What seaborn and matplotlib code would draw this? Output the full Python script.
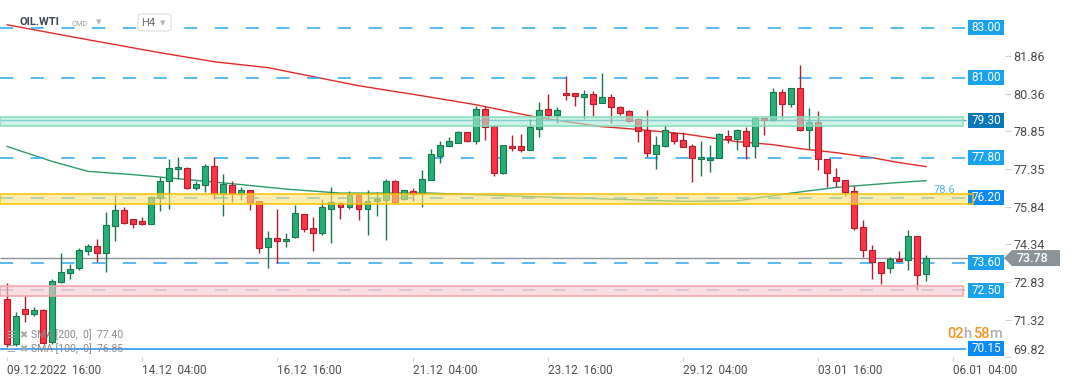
import matplotlib
matplotlib.use("Agg")
import matplotlib.pyplot as plt
from matplotlib.patches import Rectangle, FancyBboxPatch, Polygon
import numpy as np
import pandas as pd
import seaborn as sns

# ---- data (OIL.WTI, H4) ----
opens = [72.14, 70.35, 71.74, 71.54, 71.70, 70.42, 72.82, 73.18, 73.38, 74.07,
         74.26, 73.98, 75.06, 75.70, 75.34, 75.25, 75.14, 76.17, 76.86, 77.34,
         77.40, 76.57, 76.70, 77.46, 76.34, 76.69, 76.35, 76.50, 76.06, 74.22,
         74.58, 74.46, 74.61, 75.54, 74.98, 74.78, 75.74, 75.98, 75.82, 76.30,
         75.74, 76.06, 76.10, 76.86, 76.14, 76.46, 76.38, 76.90, 77.85, 78.26,
         78.38, 78.82, 78.46, 79.75, 79.05, 77.18, 78.26, 78.26, 78.10, 78.95,
         79.75, 79.51, 80.39, 80.39, 80.23, 80.35, 79.99, 80.23, 79.83, 79.67,
         79.35, 78.90, 77.94, 78.26, 78.78, 78.50, 78.26, 77.74, 77.70, 77.78,
         78.66, 78.54, 78.86, 78.26, 79.39, 79.31, 80.43, 79.95, 80.59, 78.90,
         79.23, 77.74, 77.02, 76.90, 76.46, 75.02, 74.10, 73.62, 73.38, 73.74,
         73.70, 74.66, 73.14]
highs = [72.80, 71.64, 72.28, 71.84, 71.74, 72.94, 73.98, 73.55, 74.19, 74.34,
         74.55, 75.61, 76.32, 75.83, 75.34, 75.42, 76.25, 77.01, 77.76, 77.82,
         77.42, 76.86, 77.53, 77.82, 77.16, 76.86, 76.62, 76.52, 76.08, 74.87,
         75.75, 74.78, 75.91, 75.56, 75.42, 76.14, 76.62, 76.02, 76.46, 76.32,
         76.50, 76.42, 76.94, 76.90, 76.52, 76.58, 77.32, 78.16, 78.48, 78.62,
         78.86, 78.84, 79.85, 79.85, 79.07, 78.32, 78.72, 78.76, 79.35, 80.04,
         80.36, 79.83, 81.08, 80.40, 80.52, 80.47, 81.19, 80.36, 79.87, 79.71,
         79.39, 79.71, 78.66, 79.11, 78.80, 78.82, 78.34, 78.46, 78.30, 78.78,
         78.90, 78.94, 79.03, 79.47, 79.40, 80.59, 80.55, 80.60, 81.51, 79.79,
         79.67, 77.76, 77.38, 76.92, 76.66, 75.30, 74.30, 73.64, 73.82, 74.06,
         74.90, 74.68, 73.90]
lows = [70.23, 70.24, 71.24, 71.48, 70.36, 70.35, 72.78, 72.94, 73.31, 73.89,
        73.62, 73.22, 74.45, 75.14, 74.97, 75.10, 75.14, 75.65, 75.75, 76.96,
        76.54, 76.52, 76.42, 76.14, 75.45, 76.02, 76.11, 75.69, 74.00, 73.40,
        73.60, 74.22, 74.57, 74.81, 74.05, 74.69, 74.38, 75.34, 75.74, 75.30,
        74.69, 75.46, 74.50, 75.98, 76.12, 76.06, 75.82, 76.90, 77.57, 78.26,
        78.38, 78.41, 78.34, 78.50, 77.05, 77.16, 78.05, 78.02, 78.10, 78.62,
        79.39, 79.19, 80.09, 79.85, 79.35, 79.45, 79.99, 79.19, 79.51, 79.23,
        78.41, 77.82, 77.33, 78.22, 78.34, 78.22, 76.82, 77.06, 77.22, 77.78,
        78.38, 78.10, 77.74, 77.78, 78.70, 79.27, 79.35, 79.83, 78.86, 78.14,
        77.30, 76.62, 76.62, 76.26, 74.90, 73.82, 72.94, 72.74, 73.18, 73.62,
        73.30, 72.50, 72.86]
closes = [70.35, 71.47, 71.54, 71.70, 70.38, 72.87, 73.22, 73.35, 74.11, 74.26,
          73.98, 75.10, 75.70, 75.18, 75.15, 75.14, 76.21, 76.86, 77.38, 77.44,
          76.57, 76.74, 77.46, 76.34, 76.74, 76.38, 76.50, 76.02, 74.18, 74.58,
          74.46, 74.54, 75.58, 74.94, 74.78, 75.82, 76.02, 75.82, 76.30, 75.74,
          76.06, 76.14, 76.86, 76.02, 76.50, 76.34, 76.94, 77.94, 78.30, 78.46,
          78.82, 78.46, 79.75, 79.01, 77.18, 78.30, 78.18, 78.10, 79.03, 79.71,
          79.51, 79.71, 80.31, 80.27, 80.35, 79.95, 80.23, 79.83, 79.59, 79.27,
          78.86, 77.98, 78.30, 78.90, 78.46, 78.22, 77.78, 77.82, 77.78, 78.74,
          78.54, 78.90, 78.26, 79.39, 79.31, 80.43, 79.95, 80.59, 78.90, 79.23,
          77.74, 77.18, 76.86, 76.42, 74.98, 74.10, 73.62, 73.18, 73.74, 73.66,
          74.66, 73.10, 73.78]

# moving averages, read at a few bars
sma200_bars = [0, 9, 17, 23, 29, 39, 46, 52, 59, 66, 69, 75, 81, 85, 88, 92, 96, 99, 102]
sma200_vals = [83.12, 82.52, 82.00, 81.64, 81.40, 80.68, 80.28, 79.92, 79.40, 79.04,
               78.96, 78.76, 78.44, 78.32, 78.16, 78.00, 77.80, 77.60, 77.44]
sma100_bars = [0, 5, 9, 14, 21, 26, 31, 37, 47, 59, 75, 81, 87, 92, 98, 102]
sma100_vals = [78.25, 77.65, 77.25, 77.12, 76.89, 76.72, 76.54, 76.38, 76.38, 76.23,
               76.05, 76.07, 76.38, 76.61, 76.78, 76.88]

# horizontal levels with their price boxes
dashed_levels = [83.00, 81.00, 77.80, 76.20, 73.60]
box_levels = [83.00, 81.00, 79.30, 77.80, 76.20, 73.60, 72.50, 70.15]
box_colors = ['#1aa3ec', '#1aa3ec', '#0a78b8', '#1aa3ec', '#0a8af2', '#1aa3ec', '#1aa3ec', '#0a8af2']
zones = [(79.06, 79.44), (75.94, 76.35), (72.28, 72.67)]   # green, yellow, pink
last_price = 73.78
fib_label = '78.6'

price_ticks = [81.86, 80.36, 78.85, 77.35, 75.84, 74.34, 72.83, 71.32, 69.82]
time_tick_bars = [0, 15, 30, 45, 60, 75, 90, 105]
time_tick_labels = ['09.12.2022  16:00', '14.12  04:00', '16.12  16:00', '21.12  04:00',
                    '23.12  16:00', '29.12  04:00', '03.01  16:00', '06.01  04:00']

# ---- layout helpers (pixel -> data) ----
W, H = 1072, 382
X0, STEP = 7.0, 9.013          # pixel of bar 0, pixels per bar
PPU = 24.98                    # pixels per price unit
AX_RIGHT, AX_BOTTOM = 1005, 357
Y_TOP = 69.82 + AX_BOTTOM / PPU


def bx(px):
    return (px - X0) / STEP


def set_plot_style():
    sns.set_theme(style='white')
    plt.rcParams['font.family'] = ['Roboto', 'DejaVu Sans']
    plt.rcParams['axes.edgecolor'] = 'white'


set_plot_style()

df = pd.DataFrame({'open': opens, 'high': highs, 'low': lows, 'close': closes})
df['bar'] = np.arange(len(df))
df['up'] = df['close'] >= df['open']

fig = plt.figure(figsize=(W / 100, H / 100), dpi=100)
ax = fig.add_axes([0, 1 - AX_BOTTOM / H, AX_RIGHT / W, AX_BOTTOM / H])
ax.set_xlim(bx(0), bx(AX_RIGHT))
ax.set_ylim(69.819, Y_TOP)
for s in ax.spines.values():
    s.set_visible(False)

GREEN_FILL, GREEN_EDGE = '#27ae76', '#16784d'
RED_FILL, RED_EDGE = '#ff3347', '#b01e2d'

# candles
for up, fill, edge in [(True, GREEN_FILL, GREEN_EDGE), (False, RED_FILL, RED_EDGE)]:
    d = df[df['up'] == up]
    ax.vlines(d['bar'], d['low'], d['high'], color=edge, lw=1.0, zorder=3)
    body = np.maximum((d['close'] - d['open']).abs(), 0.05)
    ax.bar(d['bar'], body, bottom=np.minimum(d['open'], d['close']), width=0.66,
           color=fill, edgecolor=edge, linewidth=0.8, zorder=4)

# moving averages
sns.lineplot(x=sma200_bars, y=sma200_vals, ax=ax, color='#e02a2a', lw=1.0, zorder=2)
sns.lineplot(x=sma100_bars, y=sma100_vals, ax=ax, color='#2e9a68', lw=1.0, zorder=2)

# level lines
line_end = bx(966)
ax.hlines(dashed_levels, bx(0), line_end, colors='#29a6ee', lw=1.1,
          linestyles=[(0, (8.6, 11.5))], zorder=2)
ax.hlines(72.50, bx(0), line_end, colors='#8fb3d6', lw=1.1, linestyles=[(0, (8.6, 11.5))], zorder=2)
ax.hlines(79.30, bx(0), line_end, colors='#4a9cc6', lw=1.0, zorder=2)
ax.hlines(70.15, bx(0), line_end, colors='#1a8ef0', lw=1.1, zorder=2)
ax.hlines(last_price, bx(0), bx(1004), colors='#8a9397', lw=1.0, zorder=2, clip_on=False)

# zones on top of the candles
zone_style = [('#a9ecd5', '#86dcbb', 963), ('#ffe27a', '#f2c200', 973), ('#f8c9cd', '#eea3a8', 963)]
for (lo, hi), (fc, ec, right) in zip(zones, zone_style):
    ax.add_patch(Rectangle((bx(0), lo), bx(right) - bx(0), hi - lo, facecolor=fc,
                           edgecolor='none', alpha=0.6, zorder=5))
    ax.add_patch(Rectangle((bx(0), lo), bx(right) - bx(0), hi - lo, facecolor='none',
                           edgecolor=ec, lw=1.1, zorder=7 if fc == '#ffe27a' else 5))
ax.text(bx(944), 76.52, fib_label, color='#5ab2ec', fontsize=8, ha='center', va='center', zorder=6)

# price boxes
bw, bh = bx(1004) - bx(968), 15 / PPU
for lv, c in zip(box_levels, box_colors):
    ax.add_patch(Rectangle((bx(968), lv - bh / 2), bw, bh, facecolor=c, edgecolor='none', zorder=6))
    ax.text(bx(986), lv, f'{lv:.2f}', color='white', fontsize=8.5, ha='center', va='center', zorder=8)

# last price tag
tag = Polygon([(bx(1004), last_price), (bx(1012), last_price + 8 / PPU), (bx(1060), last_price + 8 / PPU),
               (bx(1060), last_price - 8 / PPU), (bx(1012), last_price - 8 / PPU)],
              closed=True, facecolor='#8a9397', edgecolor='none', clip_on=False, zorder=8)
ax.add_patch(tag)
ax.text(bx(1033), last_price, f'{last_price:.2f}', color='white', fontsize=9, fontweight='medium',
        ha='center', va='center', clip_on=False, zorder=9)

# axes ticks
ax.yaxis.tick_right()
ax.set_yticks(price_ticks)
ax.set_yticklabels([f'{t:.2f}' for t in price_ticks])
ax.tick_params(axis='y', right=True, length=4, width=0.8, color='#cfcfcf', pad=2,
               labelsize=9, labelcolor='#4a4a4a')
ax.get_yticklabels()[-1].set_va('bottom')
ax.set_xticks(time_tick_bars)
ax.set_xticklabels(time_tick_labels)
ax.tick_params(axis='x', bottom=True, length=3, width=0.8, color='#d5d5d5', pad=2,
               labelsize=8.5, labelcolor='#4f4f4f')
for lbl in ax.get_xticklabels():
    lbl.set_horizontalalignment('left')
ax.grid(False)

# header
fig.text(20 / W, 1 - 22 / H, 'OIL.WTI', fontsize=8, fontweight='bold', color='#3f4750', va='center')
fig.text(72 / W, 1 - 24.5 / H, 'CMD', fontsize=5.5, color='#9aa3ab', va='center')
fig.text(96 / W, 1 - 22 / H, '▼', fontsize=5, color='#b5b5b5', va='center', family=['DejaVu Sans'])
fig.patches.append(FancyBboxPatch((138 / W, 1 - 31 / H), 33 / W, 17 / H,
                                  boxstyle='round,pad=0,rounding_size=0.005', transform=fig.transFigure,
                                  facecolor='white', edgecolor='#dcdcdc', lw=0.8, zorder=10))
fig.text(141 / W, 1 - 23 / H, 'H4', fontsize=8, color='#6a6a6a', va='center', zorder=11)
fig.text(160 / W, 1 - 23.5 / H, '▼', fontsize=5, color='#b5b5b5', va='center', zorder=11,
         family=['DejaVu Sans'])

# indicator legend
for yy, name in [(335, 'SMA [200,  0]  77.40'), (349, 'SMA [100,  0]  76.85')]:
    fig.text(6 / W, 1 - yy / H, '☰', fontsize=7, color='#a8a8a8', va='center', family=['DejaVu Sans'])
    fig.text(19 / W, 1 - yy / H, '✖', fontsize=7, color='#a8a8a8', va='center', family=['DejaVu Sans'])
    fig.text(31 / W, 1 - yy / H, name, fontsize=7.5, color='#8a8a8a', va='center')

# countdown to candle close
for xx, s, c in [(947, '02', '#f7941d'), (963, 'h', '#b0b0b0'), (973, '58', '#f7941d'), (989, 'm', '#b0b0b0')]:
    fig.text(xx / W, 1 - 334 / H, s, fontsize=10.5, color=c, va='center', fontweight='medium')

fig.savefig('out.png', dpi=100)
